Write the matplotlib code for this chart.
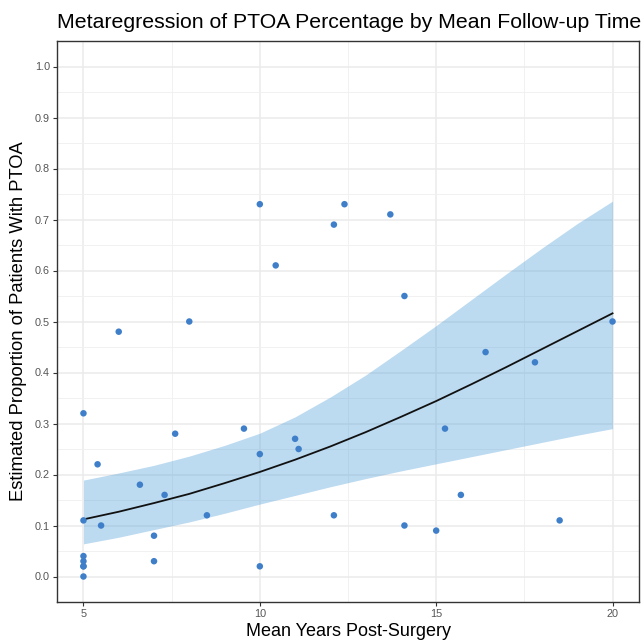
import matplotlib
matplotlib.use("Agg")
import matplotlib.pyplot as plt
import numpy as np

plt.rcParams['font.family'] = ['Liberation Sans', 'DejaVu Sans']

# Study points (mean follow-up years, PTOA proportion)
years = [5.0, 5.0, 5.0, 5.0, 5.0, 5.0, 5.0, 5.4, 5.5, 6.0, 6.6, 7.0, 7.0, 7.3, 7.6, 8.0,
         8.5, 9.55, 10.0, 10.0, 10.0, 10.45, 11.0, 11.1, 12.1, 12.1, 12.4, 13.7,
         14.1, 14.1, 15.0, 15.25, 15.7, 16.4, 17.8, 18.5, 20.0]
ptoa = [0.32, 0.11, 0.04, 0.03, 0.02, 0.02, 0.00, 0.22, 0.10, 0.48, 0.18, 0.08, 0.03, 0.16, 0.28, 0.50,
        0.12, 0.29, 0.24, 0.02, 0.73, 0.61, 0.27, 0.25, 0.69, 0.12, 0.73, 0.71,
        0.55, 0.10, 0.09, 0.29, 0.16, 0.44, 0.42, 0.11, 0.50]

# Fitted curve and confidence band
fit_x = [5, 6, 7, 8, 9, 10, 11, 12, 13, 14, 15, 16, 17, 18, 19, 20]
fit_y = [0.112, 0.127, 0.144, 0.162, 0.183, 0.205, 0.229, 0.255, 0.283, 0.313, 0.344, 0.377,
         0.411, 0.446, 0.481, 0.516]
fit_lo = [0.064, 0.077, 0.092, 0.107, 0.124, 0.142, 0.159, 0.176, 0.192, 0.207, 0.221, 0.235,
          0.249, 0.263, 0.277, 0.290]
fit_hi = [0.189, 0.203, 0.218, 0.236, 0.257, 0.281, 0.313, 0.352, 0.395, 0.443, 0.492, 0.543,
          0.594, 0.644, 0.692, 0.736]

x_ticks = [5, 10, 15, 20]
y_ticks = [0.0, 0.1, 0.2, 0.3, 0.4, 0.5, 0.6, 0.7, 0.8, 0.9, 1.0]

W, H = 641, 642
fig = plt.figure(figsize=(W / 100, H / 100), dpi=100)
ax = fig.add_axes([57 / W, (H - 602) / H, (639 - 57) / W, (602 - 41) / H])

ax.fill_between(fit_x, fit_lo, fit_hi, color='#58A3DA', alpha=0.4, linewidth=0, zorder=2)
ax.plot(fit_x, fit_y, color='#111111', linewidth=1.3, zorder=3)
ax.scatter(years, ptoa, s=22, color='#3F7FC9', edgecolors='none', zorder=4)

ax.set_xlim(4.25, 20.75)
ax.set_ylim(-0.05, 1.05)
ax.set_xticks(x_ticks)
ax.set_xticklabels([str(v) for v in x_ticks])
ax.set_yticks(y_ticks)
ax.set_yticklabels([f"{v:.1f}" for v in y_ticks])
ax.set_xticks([7.5, 12.5, 17.5], minor=True)
ax.set_yticks(np.arange(0.05, 1.0, 0.1), minor=True)

ax.grid(which='major', color='#EBEBEB', linewidth=1.1, zorder=0)
ax.grid(which='minor', color='#F1F1F1', linewidth=0.7, zorder=0)
ax.set_axisbelow(True)
ax.tick_params(which='major', length=3, width=0.8, color='#333333', labelsize=7.8,
               labelcolor='#555555', pad=2)
ax.tick_params(which='minor', length=0)
for sp in ax.spines.values():
    sp.set_color('#333333')
    sp.set_linewidth(1.0)

ax.set_xlabel('Mean Years Post-Surgery', fontsize=13, labelpad=3)
ax.set_ylabel('Estimated Proportion of Patients With PTOA', fontsize=13.2, labelpad=6)
fig.text(57 / W, 1 - 22 / H, 'Metaregression of PTOA Percentage by Mean Follow-up Time',
         fontsize=15.3, ha='left', va='center')

fig.savefig('out.png', dpi=100)
